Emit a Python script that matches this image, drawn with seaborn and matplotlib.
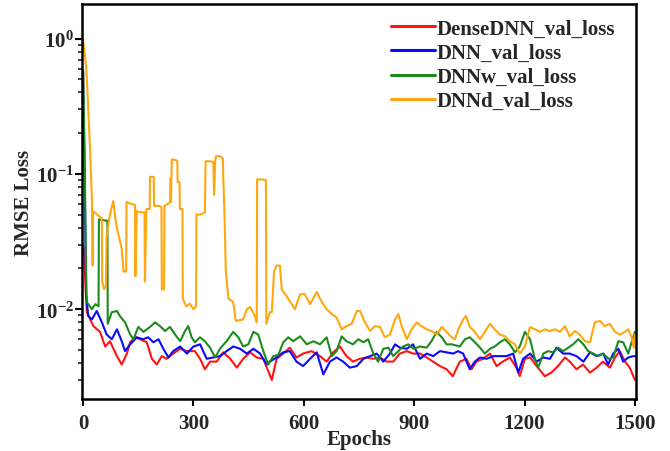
import pandas as pd
import matplotlib
matplotlib.use('Agg')
import matplotlib.pyplot as plt
import seaborn as sns
from matplotlib.ticker import LogLocator, NullFormatter, LogFormatterSciNotation

# series names and colours
models = ['DenseDNN_val_loss', 'DNN_val_loss', 'DNNw_val_loss', 'DNNd_val_loss']
colors = ['#ff1414', '#0a0aff', '#1e8a1e', '#ffa70f']

# values (epoch, RMSE loss)
dense_epoch = [0, 3, 7, 10, 28, 46, 60, 73, 92, 105, 119, 128, 141, 155, 173, 187, 200, 214,
               227, 245, 264, 282, 304, 318, 331, 345, 363, 381, 400, 418, 435, 454, 472, 490,
               503, 513, 526, 544, 562, 580, 598, 621, 644, 662, 680, 698, 716, 734, 752, 771,
               788, 807, 825, 843, 861, 880, 897, 916, 934, 951, 970, 988, 1005, 1024, 1042,
               1056, 1069, 1087, 1106, 1124, 1141, 1160, 1178, 1187, 1201, 1215, 1233, 1255,
               1273, 1291, 1310, 1323, 1341, 1359, 1378, 1396, 1413, 1432, 1446, 1459, 1473,
               1486, 1500]
dense_loss = [0.030, 0.026, 0.014, 0.0095, 0.0075, 0.0068, 0.0053, 0.0058, 0.0045, 0.0039,
              0.0047, 0.0057, 0.0062, 0.0060, 0.0057, 0.0043, 0.0039, 0.0045, 0.0043, 0.0047,
              0.0051, 0.0049, 0.0049, 0.0043, 0.0036, 0.0041, 0.0041, 0.0048, 0.0043, 0.0037,
              0.0043, 0.0048, 0.0044, 0.0043, 0.0035, 0.0030, 0.0043, 0.0047, 0.0052, 0.0044,
              0.0047, 0.0049, 0.0045, 0.0041, 0.0048, 0.0053, 0.0045, 0.0041, 0.0043, 0.0044,
              0.0043, 0.0044, 0.0041, 0.0041, 0.0047, 0.0049, 0.0047, 0.0047, 0.0044, 0.0041,
              0.0038, 0.0036, 0.0032, 0.0041, 0.0043, 0.0036, 0.0041, 0.0043, 0.0047, 0.0038,
              0.0041, 0.0044, 0.0037, 0.0032, 0.0043, 0.0044, 0.0038, 0.0032, 0.0034, 0.0038,
              0.0044, 0.0041, 0.0036, 0.0039, 0.0034, 0.0037, 0.0041, 0.0037, 0.0044, 0.0049,
              0.0041, 0.0037, 0.0030]

dnn_epoch = [0, 4, 8, 14, 24, 37, 51, 64, 78, 92, 105, 114, 128, 146, 163, 177, 191, 205,
             218, 232, 245, 264, 282, 300, 318, 336, 354, 372, 390, 408, 427, 445, 463, 481,
             499, 508, 526, 544, 562, 580, 598, 617, 635, 653, 671, 689, 707, 725, 744, 762,
             780, 798, 816, 834, 848, 861, 880, 897, 916, 934, 952, 970, 988, 1006, 1019,
             1033, 1051, 1065, 1079, 1097, 1115, 1133, 1151, 1169, 1183, 1196, 1215, 1233,
             1251, 1269, 1287, 1305, 1323, 1341, 1360, 1378, 1396, 1414, 1427, 1441, 1455,
             1468, 1482, 1496, 1500]
dnn_loss = [0.57, 0.10, 0.013, 0.0089, 0.0084, 0.0097, 0.0080, 0.0065, 0.0060, 0.0071,
            0.0058, 0.0049, 0.0055, 0.0062, 0.0060, 0.0062, 0.0057, 0.0060, 0.0051, 0.0044,
            0.0049, 0.0053, 0.0047, 0.0053, 0.0055, 0.0043, 0.0044, 0.0045, 0.0049, 0.0053,
            0.0051, 0.0047, 0.0051, 0.0047, 0.0039, 0.0041, 0.0044, 0.0048, 0.0049, 0.0041,
            0.0038, 0.0043, 0.0048, 0.0033, 0.0041, 0.0044, 0.0041, 0.0037, 0.0038, 0.0043,
            0.0045, 0.0047, 0.0041, 0.0047, 0.0055, 0.0052, 0.0051, 0.0055, 0.0043, 0.0047,
            0.0045, 0.0049, 0.0048, 0.0047, 0.0049, 0.0047, 0.0036, 0.0041, 0.0044, 0.0043,
            0.0045, 0.0045, 0.0045, 0.0047, 0.0034, 0.0043, 0.0047, 0.0041, 0.0044, 0.0043,
            0.0052, 0.0047, 0.0047, 0.0045, 0.0041, 0.0048, 0.0045, 0.0047, 0.0039, 0.0047,
            0.0051, 0.0041, 0.0044, 0.0045, 0.0045]

dnnw_epoch = [0, 4, 8, 10, 24, 33, 42, 43, 66, 67, 78, 92, 100, 114, 128, 137, 150, 164,
              182, 196, 209, 223, 236, 250, 264, 277, 286, 295, 304, 318, 331, 345, 359, 372,
              390, 408, 422, 435, 449, 463, 476, 490, 503, 517, 531, 544, 558, 571, 590, 608,
              626, 644, 662, 676, 689, 703, 716, 734, 748, 762, 775, 789, 802, 816, 830, 843,
              857, 870, 884, 898, 916, 934, 947, 961, 975, 988, 1002, 1024, 1038, 1051, 1065,
              1079, 1092, 1106, 1119, 1133, 1147, 1160, 1174, 1187, 1201, 1215, 1228, 1237,
              1251, 1264, 1278, 1291, 1305, 1319, 1332, 1346, 1360, 1373, 1387, 1400, 1414,
              1428, 1441, 1455, 1468, 1482, 1491, 1500]
dnnw_loss = [0.58, 0.15, 0.020, 0.0113, 0.0100, 0.0109, 0.0105, 0.046, 0.045, 0.0078,
             0.0095, 0.0097, 0.0089, 0.0080, 0.0065, 0.0060, 0.0074, 0.0068, 0.0074, 0.0080,
             0.0075, 0.0069, 0.0074, 0.0065, 0.0058, 0.0069, 0.0075, 0.0062, 0.0057, 0.0062,
             0.0058, 0.0052, 0.0044, 0.0051, 0.0058, 0.0068, 0.0062, 0.0053, 0.0055, 0.0068,
             0.0065, 0.0049, 0.0039, 0.0045, 0.0046, 0.0057, 0.0062, 0.0058, 0.0063, 0.0055,
             0.0058, 0.0055, 0.0062, 0.0045, 0.0049, 0.0063, 0.0058, 0.0055, 0.0060, 0.0057,
             0.0060, 0.0047, 0.0041, 0.0051, 0.0052, 0.0045, 0.0049, 0.0053, 0.0055, 0.0051,
             0.0053, 0.0052, 0.0058, 0.0068, 0.0062, 0.0055, 0.0055, 0.0053, 0.0060, 0.0062,
             0.0057, 0.0052, 0.0047, 0.0051, 0.0053, 0.0057, 0.0060, 0.0055, 0.0048, 0.0053,
             0.0068, 0.0060, 0.0043, 0.0037, 0.0047, 0.0049, 0.0048, 0.0052, 0.0049, 0.0052,
             0.0055, 0.0060, 0.0055, 0.0049, 0.0047, 0.0045, 0.0047, 0.0043, 0.0044, 0.0058,
             0.0057, 0.0047, 0.0057, 0.0068]

dnnd_epoch = [0, 4, 8, 12, 14, 17, 19, 22, 24, 26, 27, 35, 42, 51, 52, 57, 62, 64, 73, 82,
              90, 99, 105, 110, 117, 118, 130, 141, 142, 146, 157, 167, 168, 172, 181, 182,
              192, 193, 205, 213, 214, 220, 221, 230, 237, 238, 239, 241, 249, 256, 257, 262,
              263, 270, 271, 280, 290, 300, 307, 308, 320, 331, 333, 344, 354, 356, 359, 361,
              372, 380, 381, 384, 388, 395, 408, 415, 435, 445, 454, 467, 472, 473, 485, 497,
              498, 508, 513, 519, 526, 535, 540, 553, 567, 576, 590, 603, 617, 635, 649, 662,
              676, 689, 703, 716, 730, 744, 753, 766, 780, 793, 807, 820, 834, 848, 857, 866,
              880, 893, 907, 920, 934, 947, 961, 975, 988, 1002, 1011, 1020, 1033, 1041, 1051,
              1065, 1079, 1092, 1106, 1119, 1133, 1147, 1160, 1174, 1187, 1201, 1215, 1228,
              1242, 1255, 1269, 1283, 1296, 1310, 1323, 1337, 1350, 1364, 1378, 1391, 1405,
              1418, 1432, 1446, 1459, 1473, 1482, 1491, 1497, 1500]
dnnd_loss = [0.97, 0.80, 0.63, 0.40, 0.30, 0.20, 0.15, 0.09, 0.065, 0.021, 0.053, 0.051,
             0.049, 0.047, 0.016, 0.014, 0.015, 0.035, 0.050, 0.063, 0.042, 0.033, 0.028,
             0.019, 0.019, 0.062, 0.060, 0.059, 0.0175, 0.053, 0.052, 0.052, 0.016, 0.055,
             0.055, 0.095, 0.095, 0.058, 0.058, 0.057, 0.014, 0.014, 0.058, 0.060, 0.062,
             0.093, 0.062, 0.128, 0.127, 0.125, 0.087, 0.087, 0.055, 0.055, 0.012, 0.0105,
             0.011, 0.0100, 0.0105, 0.050, 0.050, 0.052, 0.124, 0.124, 0.122, 0.070, 0.122,
             0.135, 0.135, 0.130, 0.095, 0.055, 0.019, 0.012, 0.0113, 0.0082, 0.0084, 0.0100,
             0.0104, 0.0089, 0.0080, 0.091, 0.091, 0.090, 0.0078, 0.0095, 0.0095, 0.019,
             0.021, 0.021, 0.014, 0.0125, 0.0109, 0.0100, 0.0129, 0.0129, 0.0109, 0.0134,
             0.0113, 0.0100, 0.0092, 0.0087, 0.0071, 0.0075, 0.0078, 0.0097, 0.0097, 0.0080,
             0.0069, 0.0075, 0.0074, 0.0062, 0.0065, 0.0084, 0.0092, 0.0075, 0.0060, 0.0071,
             0.0080, 0.0075, 0.0071, 0.0069, 0.0065, 0.0074, 0.0068, 0.0062, 0.0060, 0.0071,
             0.0084, 0.0089, 0.0074, 0.0068, 0.0060, 0.0068, 0.0078, 0.0071, 0.0065, 0.0063,
             0.0058, 0.0055, 0.0047, 0.0053, 0.0074, 0.0071, 0.0068, 0.0071, 0.0069, 0.0071,
             0.0068, 0.0075, 0.0063, 0.0069, 0.0065, 0.0058, 0.0057, 0.0080, 0.0082, 0.0075,
             0.0078, 0.0068, 0.0065, 0.0068, 0.0071, 0.0062, 0.0052, 0.0065]

x_ticks = [0, 300, 600, 900, 1200, 1500]

# long form table for seaborn
frames = []
for name, ep, val in zip(models,
                         [dense_epoch, dnn_epoch, dnnw_epoch, dnnd_epoch],
                         [dense_loss, dnn_loss, dnnw_loss, dnnd_loss]):
    frames.append(pd.DataFrame({'epoch': ep, 'loss': val, 'model': name}))
df = pd.concat(frames, ignore_index=True)

sns.set_style('ticks')
plt.rcParams['font.family'] = ['Liberation Serif', 'DejaVu Serif']
plt.rcParams['font.weight'] = 'bold'
plt.rcParams['axes.labelweight'] = 'bold'
plt.rcParams['mathtext.fontset'] = 'custom'
plt.rcParams['mathtext.rm'] = 'Liberation Serif:bold'
plt.rcParams['mathtext.it'] = 'Liberation Serif:bold'
plt.rcParams['mathtext.bf'] = 'Liberation Serif:bold'

fig = plt.figure(figsize=(6.7, 4.52), dpi=100)
ax = fig.add_axes([82 / 670, 52 / 452, 554 / 670, 395 / 452])

sns.lineplot(data=df, x='epoch', y='loss', hue='model', hue_order=models,
             palette=colors, estimator=None, sort=False, lw=1.5, legend=False, ax=ax)

ax.set_yscale('log')
ax.set_xlim(-3, 1503)
ax.set_ylim(0.00217, 1.8)
ax.set_xticks(x_ticks)
ax.yaxis.set_major_locator(LogLocator(base=10))
ax.yaxis.set_major_formatter(LogFormatterSciNotation())
ax.yaxis.set_minor_locator(LogLocator(base=10, subs=range(2, 10)))
ax.yaxis.set_minor_formatter(NullFormatter())

ax.set_xlabel('Epochs', fontsize=15, fontweight='bold', labelpad=-3)
ax.set_ylabel('RMSE Loss', fontsize=15, fontweight='bold', labelpad=1)

ax.tick_params(axis='both', which='major', direction='out', length=5, width=1.5,
               labelsize=15, color='black')
ax.tick_params(axis='x', pad=5)
ax.tick_params(axis='y', pad=1)
ax.tick_params(axis='y', which='minor', direction='out', length=3, width=1.2)
for s in ax.spines.values():
    s.set_visible(True)
    s.set_linewidth(1.8)
    s.set_color('black')

leg = ax.legend(ax.get_lines()[:4], models, loc='upper right', bbox_to_anchor=(0.985, 0.995),
                frameon=False, handlelength=2.1, handletextpad=0.1, labelspacing=0.2,
                borderaxespad=0.2, prop={'family': 'Liberation Serif', 'weight': 'bold', 'size': 15})
for h in leg.get_lines():
    h.set_linewidth(2.2)

fig.savefig('out.png', dpi=100)
